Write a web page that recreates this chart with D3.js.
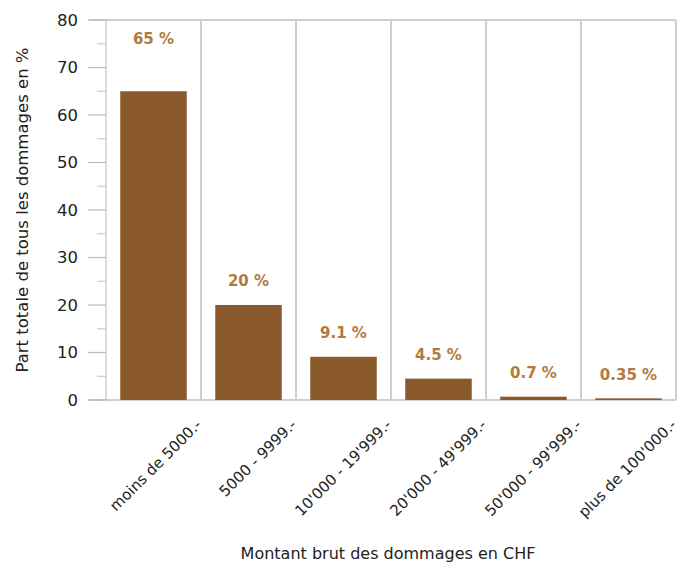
<!DOCTYPE html>
<html>
<head>
<meta charset="utf-8">
<script src="https://cdn.jsdelivr.net/npm/d3@7"></script>
<style>
  body { margin: 0; background: #fff; }
  text { font-family: "DejaVu Sans", "Liberation Sans", Arial, sans-serif; }
</style>
</head>
<body>
<div id="chart"></div>
<script>
const categories = [
  "moins de 5000.-",
  "5000 - 9999.-",
  "10'000 - 19'999.-",
  "20'000 - 49'999.-",
  "50'000 - 99'999.-",
  "plus de 100'000.-"
];
const values = [65, 20, 9.1, 4.5, 0.7, 0.35];
const valueLabels = ["65 %", "20 %", "9.1 %", "4.5 %", "0.7 %", "0.35 %"];
const majorTicks = [0, 10, 20, 30, 40, 50, 60, 70, 80];
const minorTicks = [5, 15, 25, 35, 45, 55, 65, 75];

const fullWidth = 683;
const fullHeight = 566;
const margin = { top: 20, right: 7, bottom: 166, left: 106 };
const width = fullWidth - margin.left - margin.right;
const height = fullHeight - margin.top - margin.bottom;

const barColor = "#8a5a2d";
const labelColor = "#b07a40";
const gridColor = "#cfcfcf";
const textColor = "#222";

const svg = d3
  .select("#chart")
  .append("svg")
  .attr("width", fullWidth)
  .attr("height", fullHeight)
  .append("g")
  .attr("transform", `translate(${margin.left}, ${margin.top})`);

const x = d3.scaleBand().domain(categories).range([0, width]).paddingInner(0.3).paddingOuter(0.15);
const y = d3.scaleLinear().domain([0, 80]).range([height, 0]);
const step = x.step();

// vertical separators between categories + right border
svg
  .append("g")
  .selectAll("line")
  .data(categories)
  .enter()
  .append("line")
  .attr("x1", (d, i) => (i + 1) * step)
  .attr("x2", (d, i) => (i + 1) * step)
  .attr("y1", 0)
  .attr("y2", height)
  .style("stroke", gridColor)
  .style("stroke-width", 2);

// top and bottom lines
[0, height].forEach(yy => {
  svg
    .append("line")
    .attr("x1", -17)
    .attr("x2", width)
    .attr("y1", yy)
    .attr("y2", yy)
    .style("stroke", gridColor)
    .style("stroke-width", 2);
});

// y axis line
svg
  .append("line")
  .attr("x1", 0)
  .attr("x2", 0)
  .attr("y1", 0)
  .attr("y2", height)
  .style("stroke", gridColor)
  .style("stroke-width", 1.5);

// ticks
const yAxis = svg.append("g");
yAxis
  .selectAll(".major")
  .data(majorTicks)
  .enter()
  .append("line")
  .attr("x1", -18)
  .attr("x2", 0)
  .attr("y1", d => y(d))
  .attr("y2", d => y(d))
  .style("stroke", "#bbb")
  .style("stroke-width", 1.2);

yAxis
  .selectAll(".minor")
  .data(minorTicks)
  .enter()
  .append("line")
  .attr("x1", -9)
  .attr("x2", 0)
  .attr("y1", d => y(d))
  .attr("y2", d => y(d))
  .style("stroke", "#ccc")
  .style("stroke-width", 1.2);

yAxis
  .selectAll("text")
  .data(majorTicks)
  .enter()
  .append("text")
  .attr("x", -28)
  .attr("y", d => y(d))
  .attr("dy", "0.36em")
  .attr("text-anchor", "end")
  .style("font-size", "16.5px")
  .style("fill", textColor)
  .text(d => d);

// bars
svg
  .append("g")
  .selectAll("rect")
  .data(values)
  .enter()
  .append("rect")
  .attr("x", (d, i) => x(categories[i]))
  .attr("width", x.bandwidth())
  .attr("y", d => y(d))
  .attr("height", d => height - y(d))
  .style("fill", barColor);

// value labels (the tall bar gets its label near the top of the frame)
svg
  .append("g")
  .selectAll("text")
  .data(values)
  .enter()
  .append("text")
  .attr("x", (d, i) => x(categories[i]) + x.bandwidth() / 2)
  .attr("y", d => (d > 50 ? y(76) : y(d) - 24))
  .attr("dy", "0.36em")
  .attr("text-anchor", "middle")
  .style("font-size", "15px")
  .style("font-weight", "bold")
  .style("fill", labelColor)
  .text((d, i) => valueLabels[i]);

// category labels
svg
  .append("g")
  .selectAll("text")
  .data(categories)
  .enter()
  .append("text")
  .attr("transform", d => `translate(${x(d) + x.bandwidth() / 2 + 45}, ${height + 22}) rotate(-45)`)
  .attr("text-anchor", "end")
  .attr("dy", "0.36em")
  .style("font-size", "15px")
  .style("fill", textColor)
  .text(d => d);

// axis titles
svg
  .append("text")
  .attr("x", 388 - margin.left)
  .attr("y", 553 - margin.top)
  .attr("dy", "0.36em")
  .attr("text-anchor", "middle")
  .style("font-size", "16px")
  .style("fill", textColor)
  .text("Montant brut des dommages en CHF");

svg
  .append("text")
  .attr("transform", `translate(${22 - margin.left}, ${210 - margin.top}) rotate(-90)`)
  .attr("dy", "0.36em")
  .attr("text-anchor", "middle")
  .style("font-size", "16.5px")
  .style("fill", textColor)
  .text("Part totale de tous les dommages en %");
</script>
</body>
</html>
